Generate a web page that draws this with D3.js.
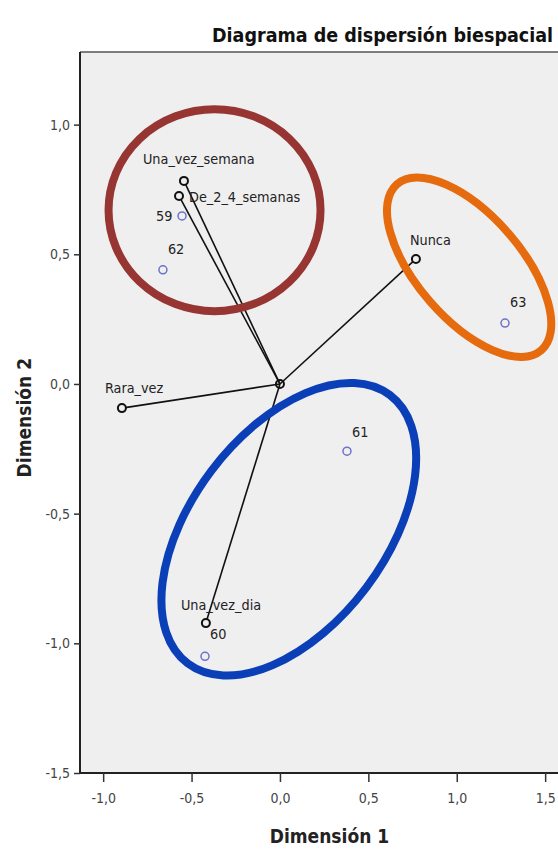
<!DOCTYPE html>
<html><head><meta charset="utf-8">
<script src="https://cdn.jsdelivr.net/npm/d3@7"></script>
<style>body{margin:0;background:#fff}svg{display:block}</style>
</head><body>
<script>
// Category points (black) with vectors from origin
const categoryNames = ["Una_vez_semana","De_2_4_semanas","Nunca","Rara_vez","Una_vez_dia"];
const categoryX = [-0.543,-0.571,0.769,-0.894,-0.419];
const categoryY = [0.783,0.725,0.482,-0.093,-0.922];
// Object points (blue)
const objectNames = ["59","62","61","60","63"];
const objectX = [-0.554,-0.662,0.379,-0.424,1.273];
const objectY = [0.648,0.440,-0.259,-1.050,0.235];
// Axis ticks
const xTicks = [-1.0,-0.5,0.0,0.5,1.0,1.5];
const yTicks = [1.0,0.5,0.0,-0.5,-1.0,-1.5];
// Annotation ellipses (centre in data units)
const ellipseCX = [-0.37,1.07,0.05];
const ellipseCY = [0.67,0.45,-0.56];
const ellipseColor = ["#973533","#e56b0e","#0a3fb8"];

const W=558,H=852;
const M={left:80,top:52,right:560,bottom:773};
const svg=d3.select("body").append("svg").attr("width",W).attr("height",H);
const x=d3.scaleLinear().domain([-1.131,1.584]).range([M.left,M.right]);
const y=d3.scaleLinear().domain([-1.5,1.28]).range([M.bottom,M.top]);
const font="'DejaVu Sans Condensed','DejaVu Sans',sans-serif";

svg.append("rect").attr("x",M.left).attr("y",M.top).attr("width",M.right-M.left).attr("height",M.bottom-M.top).attr("fill","#efefef");
svg.append("line").attr("x1",M.left).attr("x2",M.right).attr("y1",M.top).attr("y2",M.top).attr("stroke","#555").attr("stroke-width",1.5);

// axes
const fmt=d=>d3.format(".1f")(d).replace(".",",").replace("−","-");
const xAxis=svg.append("g").attr("transform",`translate(0,${M.bottom})`)
  .call(d3.axisBottom(x).tickValues(xTicks).tickSize(9).tickFormat(fmt));
const yAxis=svg.append("g").attr("transform",`translate(${M.left},0)`)
  .call(d3.axisLeft(y).tickValues(yTicks).tickSize(6).tickFormat(fmt));
[xAxis,yAxis].forEach(g=>{
  g.select(".domain").attr("stroke","#222").attr("stroke-width",2);
  g.selectAll(".tick line").attr("stroke","#333").attr("stroke-width",1.5);
  g.selectAll("text").attr("font-family",font).attr("font-size",14).attr("fill","#444");
});
xAxis.select(".domain").attr("d",`M${M.left},0H${M.right}`);
yAxis.select(".domain").attr("d",`M0,${M.top}V${M.bottom}`);
xAxis.selectAll("text").attr("dy","1.25em");
yAxis.selectAll("text").attr("dx","-1px");

// vectors
const cats=categoryNames.map((n,i)=>({n,x:categoryX[i],y:categoryY[i]}));
svg.selectAll("line.vec").data(cats).enter().append("line")
  .attr("x1",x(0)).attr("y1",y(0)).attr("x2",d=>x(d.x)).attr("y2",d=>y(d.y))
  .attr("stroke","#111").attr("stroke-width",1.6);
svg.append("circle").attr("cx",x(0)).attr("cy",y(0)).attr("r",4).attr("fill","none").attr("stroke","#111").attr("stroke-width",2);
svg.selectAll("circle.cat").data(cats).enter().append("circle")
  .attr("cx",d=>x(d.x)).attr("cy",d=>y(d.y)).attr("r",4).attr("fill","#efefef").attr("stroke","#111").attr("stroke-width",2);

const objs=objectNames.map((n,i)=>({n,x:objectX[i],y:objectY[i]}));
svg.selectAll("circle.obj").data(objs).enter().append("circle")
  .attr("cx",d=>x(d.x)).attr("cy",d=>y(d.y)).attr("r",4).attr("fill","none").attr("stroke","#6c72cc").attr("stroke-width",1.5);

// labels
const catOff={"Una_vez_semana":[-41,-17],"De_2_4_semanas":[10,6],"Nunca":[-6,-14],"Rara_vez":[-17,-15],"Una_vez_dia":[-25,-13]};
svg.selectAll("text.cat").data(cats).enter().append("text")
  .attr("x",d=>x(d.x)+catOff[d.n][0]).attr("y",d=>y(d.y)+catOff[d.n][1])
  .attr("font-family",font).attr("font-size",14.3).attr("fill","#222").text(d=>d.n);
const objOff={"59":[-26,5],"62":[5,-16],"61":[5,-14],"60":[5,-17],"63":[5,-16]};
svg.selectAll("text.obj").data(objs).enter().append("text")
  .attr("x",d=>x(d.x)+objOff[d.n][0]).attr("y",d=>y(d.y)+objOff[d.n][1])
  .attr("font-family",font).attr("font-size",14.3).attr("fill","#222").text(d=>d.n);

// ellipses
const ellR=[[106,101,0],[110,52,49],[168,97,-53]];
ellipseCX.forEach((cx,i)=>{
  svg.append("ellipse").attr("cx",0).attr("cy",0).attr("rx",ellR[i][0]).attr("ry",ellR[i][1])
    .attr("transform",`translate(${x(cx)},${y(ellipseCY[i])}) rotate(${ellR[i][2]})`)
    .attr("fill","none").attr("stroke",ellipseColor[i]).attr("stroke-width",8);
});

// titles
svg.append("text").attr("x",212).attr("y",42).attr("text-anchor","start")
  .attr("font-family",font).attr("font-weight","bold").attr("font-size",19.5).attr("fill","#111")
  .text("Diagrama de dispersión biespacial");
svg.append("text").attr("x",x(0.28)).attr("y",843).attr("text-anchor","middle")
  .attr("font-family",font).attr("font-weight","bold").attr("font-size",19).attr("fill","#222").text("Dimensión 1");
svg.append("text").attr("transform",`translate(31,${y(-0.13)}) rotate(-90)`).attr("text-anchor","middle")
  .attr("font-family",font).attr("font-weight","bold").attr("font-size",19).attr("fill","#222").text("Dimensión 2");
</script>
</body></html>
